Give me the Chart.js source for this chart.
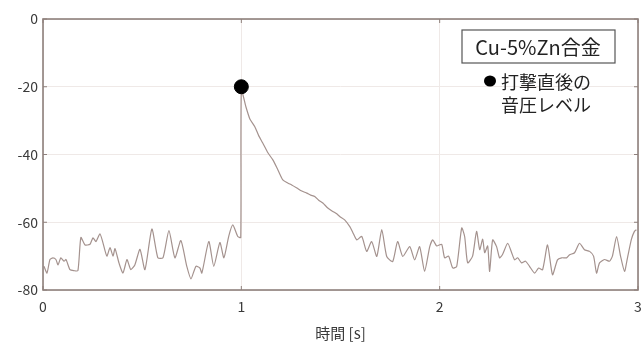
<!DOCTYPE html>
<html>
<head>
<meta charset="utf-8">
<script src="https://cdn.jsdelivr.net/npm/chart.js@4/dist/chart.umd.min.js"></script>
<style>
  html,body{margin:0;padding:0;background:#fff}
  #wrap{width:641px;height:351px}
</style>
</head>
<body>
<div id="wrap"><canvas id="c" width="641" height="351"></canvas></div>
<script>
// --- data ---
const xTicks = [0, 1, 2, 3]
const yTicks = [0, -20, -40, -60, -80]
const xTitle = '時間 [s]'
const boxLabel = 'Cu-5%Zn合金'
const dotLabel = ['打撃直後の', '音圧レベル']

// time [s]
const times = [
  0.005,0.02,0.035,0.05,0.065,0.076,0.09,0.106,0.116,0.136,0.156,0.176,0.191,0.212,0.237,0.252,0.267,0.287,0.302,0.322,
  0.338,0.353,0.363,0.383,0.403,0.423,0.433,0.443,0.463,0.489,0.514,0.549,0.579,0.605,0.635,0.665,0.695,0.725,0.746,0.771,
  0.791,0.801,0.836,0.861,0.892,0.912,0.937,0.957,0.982,0.997,1.0,1.023,1.043,1.068,1.088,1.108,1.134,1.159,1.184,1.209,
  1.234,1.254,1.28,1.305,1.33,1.35,1.37,1.39,1.411,1.436,1.461,1.481,1.496,1.521,1.547,1.562,1.582,1.607,1.632,1.657,
  1.683,1.708,1.733,1.763,1.788,1.814,1.849,1.874,1.899,1.924,1.95,1.965,1.985,2.01,2.025,2.045,2.066,2.086,2.111,2.126,
  2.141,2.166,2.186,2.202,2.217,2.227,2.242,2.252,2.267,2.287,2.302,2.317,2.343,2.363,2.378,2.393,2.413,2.433,2.453,2.479,
  2.499,2.519,2.544,2.569,2.594,2.615,2.64,2.655,2.68,2.705,2.73,2.756,2.776,2.791,2.806,2.831,2.856,2.871,2.892,2.912,
  2.932,2.947,2.967,2.982,2.992
]
// sound pressure level [dB]
const levels = [
  -73,-75,-71,-70.5,-71,-72.6,-70.5,-71.5,-71,-74,-74.3,-74.3,-64.5,-66.7,-66.5,-64.6,-65.7,-63.4,-66,-70,
  -67.5,-70,-67.8,-72,-75,-71,-72.5,-74,-72.6,-68,-74,-62,-70.5,-70.5,-62.5,-70.5,-65.4,-73,-76.7,-73,
  -73.5,-75,-65.7,-73,-66,-70.5,-64,-60.8,-64.2,-64.5,-21,-25.9,-29.5,-31.8,-34.5,-36.6,-39.5,-41.6,-44.5,-47.5,
  -48.4,-49,-49.9,-50.8,-51.4,-52,-52.4,-53.5,-54.3,-55.8,-56.8,-57.5,-58.3,-59.3,-61.3,-63,-65.2,-64.2,-68.6,-65.7,
  -70.1,-62.2,-70.1,-71.6,-65.7,-70.1,-67.2,-71.1,-67.2,-74.5,-67.2,-65.2,-67,-66.5,-70.5,-70,-73.5,-73,-61.7,-64.2,
  -72,-70,-62.7,-68.1,-65,-69,-67,-74.5,-65.2,-67.2,-70.5,-69.5,-66.2,-69,-71.1,-70.5,-72,-71.5,-73,-75,
  -73.5,-74,-66.7,-75.5,-71.1,-70.5,-70.5,-69.6,-69,-66.2,-68.1,-68.6,-70,-75,-72,-71,-71.5,-70,-64.2,-70,
  -74.5,-70.5,-65,-62.7,-62.2
]
// level right after the hit
const peakTime = [1]
const peakLevel = [-20]

const FONT = '"Noto Sans CJK JP", "Noto Sans", sans-serif'
const frameColor = '#8e807c'
const textColor = '#3a3a3a'

// frame, inward ticks, x tick labels and the annotation box
const decor = {
  id: 'decor',
  afterDraw(chart){
    const {ctx, chartArea:a, scales:{x, y}} = chart
    ctx.save()
    ctx.strokeStyle = frameColor
    ctx.lineWidth = 1.6
    ctx.strokeRect(a.left, a.top, a.right-a.left, a.bottom-a.top)
    ctx.lineWidth = 1
    ctx.fillStyle = textColor
    ctx.font = '14px ' + FONT
    ctx.textAlign = 'center'
    ctx.textBaseline = 'middle'
    xTicks.forEach(v=>{
      const px = x.getPixelForValue(v)
      ctx.beginPath(); ctx.moveTo(px, a.bottom); ctx.lineTo(px, a.bottom-4); ctx.stroke()
      ctx.beginPath(); ctx.moveTo(px, a.top); ctx.lineTo(px, a.top+4); ctx.stroke()
      ctx.fillText(String(v), px, a.bottom+17)
    })
    yTicks.forEach(v=>{
      const py = y.getPixelForValue(v)
      ctx.beginPath(); ctx.moveTo(a.left, py); ctx.lineTo(a.left+4, py); ctx.stroke()
      ctx.beginPath(); ctx.moveTo(a.right, py); ctx.lineTo(a.right-4, py); ctx.stroke()
    })
    // label box
    const bx = a.right-176, by = a.top+11
    ctx.fillStyle = '#fff'
    ctx.fillRect(bx, by, 153, 33)
    ctx.strokeStyle = '#555'
    ctx.lineWidth = 1.2
    ctx.strokeRect(bx, by, 153, 33)
    ctx.fillStyle = '#222'
    ctx.font = '20px ' + FONT
    ctx.fillText(boxLabel, bx+76, by+17)
    // dot legend
    ctx.beginPath()
    ctx.ellipse(a.right-148, a.top+62, 6, 5.5, 0, 0, Math.PI*2)
    ctx.fillStyle = '#000'
    ctx.fill()
    ctx.fillStyle = '#222'
    ctx.font = '18px ' + FONT
    ctx.textAlign = 'left'
    ctx.fillText(dotLabel[0], a.right-137, a.top+63)
    ctx.fillText(dotLabel[1], a.right-137, a.top+86)
    ctx.restore()
  }
}

new Chart(document.getElementById('c'), {
  type: 'scatter',
  data: {
    datasets: [
      {
        data: times.map((t,i)=>({x:t, y:levels[i]})),
        showLine: true,
        borderColor: '#a4928e',
        borderWidth: 1.2,
        pointRadius: 0,
        tension: 0.2,
        order: 2
      },
      {
        data: peakTime.map((t,i)=>({x:t, y:peakLevel[i]})),
        pointRadius: 7,
        pointBackgroundColor: '#000',
        pointBorderColor: '#000',
        order: 1
      }
    ]
  },
  plugins: [decor],
  options: {
    responsive: false,
    animation: false,
    events: [],
    layout: { autoPadding: false, padding: { top: 19, right: 3, left: 0, bottom: 0 } },
    plugins: { legend: { display: false }, tooltip: { enabled: false } },
    scales: {
      x: {
        type: 'linear', min: 0, max: 3,
        afterBuildTicks: s => { s.ticks = xTicks.map(v=>({value:v})) },
        afterFit: s => { s.height = 61 },
        grid: { color: '#efe9e7', drawTicks: false },
        border: { display: false },
        ticks: { display: false },
        title: { display: true, text: xTitle, color: textColor, padding: { top: 2, bottom: 9 }, font: { family: FONT, size: 15 } }
      },
      y: {
        type: 'linear', min: -80, max: 0,
        afterBuildTicks: s => { s.ticks = yTicks.map(v=>({value:v})) },
        afterFit: s => { s.width = 43 },
        grid: { color: '#efe9e7', drawTicks: false },
        border: { display: false },
        ticks: { padding: 5, color: textColor, font: { family: FONT, size: 14 } }
      }
    }
  }
})
</script>
</body>
</html>
